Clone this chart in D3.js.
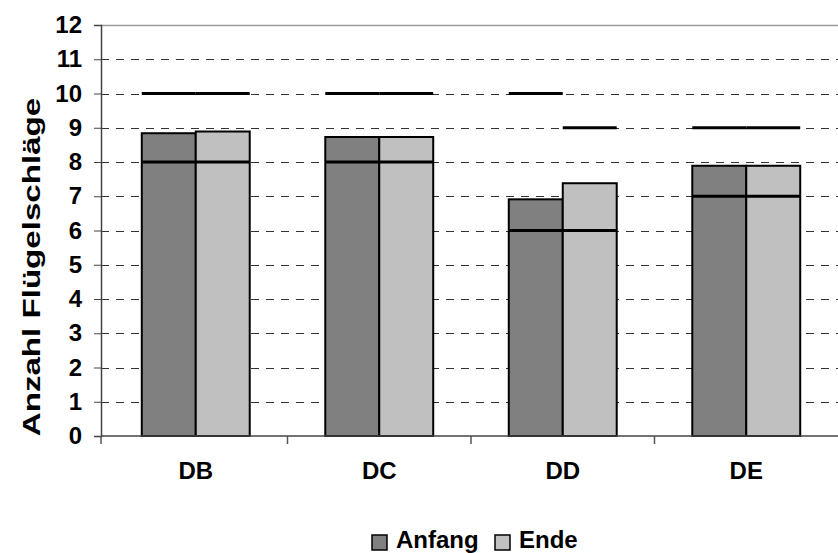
<!DOCTYPE html>
<html>
<head>
<meta charset="utf-8">
<script src="https://cdn.jsdelivr.net/npm/d3@7/dist/d3.min.js"></script>
<style>
  html, body { margin: 0; padding: 0; background: #fff; }
  svg { display: block; font-family: "Liberation Sans", Arial, sans-serif; }
</style>
</head>
<body>
<svg id="chart" width="838" height="553"></svg>
<script>
// Wing-beat counts per group: mean at start and end, with min/max markers
const categories = ["DB", "DC", "DD", "DE"];
const seriesNames = ["Anfang", "Ende"];
const anfang = [8.84, 8.73, 6.91, 7.89];
const ende = [8.89, 8.73, 7.38, 7.89];
const anfangMin = [8, 8, 6, 7];
const anfangMax = [10, 10, 10, 9];
const endeMin = [8, 8, 6, 7];
const endeMax = [10, 10, 9, 9];
const yTicks = [0, 1, 2, 3, 4, 5, 6, 7, 8, 9, 10, 11, 12];
const yTitle = "Anzahl Flügelschläge";

const colors = { Anfang: "#808080", Ende: "#c0c0c0" };

const svg = d3.select("#chart");
const plotLeft = 101, plotRight = 838, plotTop = 25, plotBottom = 436;

const x = d3.scaleBand().domain(categories).range([plotLeft + 3, plotRight]).padding(0);
const xs = d3.scaleBand().domain(seriesNames)
  .range([0, x.bandwidth()]).paddingOuter(0.7).paddingInner(0);
const y = d3.scaleLinear().domain([0, 12]).range([plotBottom, plotTop]);

// gridlines
svg.append("g").selectAll("line")
  .data(yTicks.filter(d => d > 0))
  .join("line")
  .attr("x1", plotLeft).attr("x2", plotRight)
  .attr("y1", d => Math.round(y(d)) + 0.5).attr("y2", d => Math.round(y(d)) + 0.5)
  .attr("stroke", d => d === 12 ? "#9a9a9a" : "#333")
  .attr("stroke-width", d => d === 12 ? 1.5 : 1)
  .attr("stroke-dasharray", d => d === 12 ? null : "8,7");

// rows: one record per bar
const rows = [];
categories.forEach((c, i) => {
  rows.push({ cat: c, s: "Anfang", v: anfang[i], lo: anfangMin[i], hi: anfangMax[i] });
  rows.push({ cat: c, s: "Ende", v: ende[i], lo: endeMin[i], hi: endeMax[i] });
});

// bars
svg.append("g").selectAll("rect")
  .data(rows)
  .join("rect")
  .attr("x", d => x(d.cat) + xs(d.s))
  .attr("y", d => y(d.v))
  .attr("width", xs.bandwidth())
  .attr("height", d => y(0) - y(d.v))
  .attr("fill", d => colors[d.s])
  .attr("stroke", "#000")
  .attr("stroke-width", 2);

// min / max markers
const marks = [];
rows.forEach(r => { marks.push({ r, v: r.lo }); marks.push({ r, v: r.hi }); });
svg.append("g").selectAll("line")
  .data(marks)
  .join("line")
  .attr("x1", d => x(d.r.cat) + xs(d.r.s))
  .attr("x2", d => x(d.r.cat) + xs(d.r.s) + xs.bandwidth())
  .attr("y1", d => y(d.v)).attr("y2", d => y(d.v))
  .attr("stroke", "#000")
  .attr("stroke-width", 3);

// y axis
const yAxis = svg.append("g")
  .attr("transform", `translate(${plotLeft},0)`)
  .call(d3.axisLeft(y).tickValues(yTicks).tickSize(7).tickPadding(12).tickFormat(d3.format("d")));
yAxis.select(".domain").attr("stroke", "#444").attr("stroke-width", 1.5);
yAxis.selectAll(".tick line").attr("stroke", "#444");
yAxis.selectAll("text")
  .attr("font-size", 24).attr("font-weight", "bold").attr("fill", "#000")
  .attr("font-family", "Liberation Sans, Arial, sans-serif");

// x axis
const xAxis = svg.append("g")
  .attr("transform", `translate(0,${plotBottom})`)
  .call(d3.axisBottom(x).tickSize(0).tickPadding(26));
xAxis.select(".domain").attr("d", `M${plotLeft},0H${plotRight}`)
  .attr("stroke", "#444").attr("stroke-width", 1.5);
xAxis.selectAll("text")
  .attr("font-size", 24).attr("font-weight", "bold").attr("fill", "#000")
  .attr("font-family", "Liberation Sans, Arial, sans-serif");
// category separators below the axis
svg.append("g").selectAll("line")
  .data(categories.slice(1))
  .join("line")
  .attr("x1", d => x(d)).attr("x2", d => x(d))
  .attr("y1", plotBottom).attr("y2", plotBottom + 8)
  .attr("stroke", "#555").attr("stroke-width", 1.5);
svg.append("line")
  .attr("x1", plotLeft).attr("x2", plotLeft)
  .attr("y1", plotBottom).attr("y2", plotBottom + 8)
  .attr("stroke", "#555").attr("stroke-width", 1.5);

// y title (stretched along its length)
svg.append("text")
  .attr("transform", `translate(40,267) rotate(-90) scale(1.38,1)`)
  .attr("text-anchor", "middle")
  .attr("font-size", 24).attr("font-weight", "bold")
  .text(yTitle);

// legend
const legend = svg.append("g");
const legendX = [372, 495];
seriesNames.forEach((s, i) => {
  legend.append("rect")
    .attr("x", legendX[i]).attr("y", 535).attr("width", 15).attr("height", 15)
    .attr("fill", colors[s]).attr("stroke", "#000").attr("stroke-width", 1.5);
  legend.append("text")
    .attr("x", legendX[i] + 24).attr("y", 548)
    .attr("font-size", 24).attr("font-weight", "bold")
    .text(s);
});
</script>
</body>
</html>
